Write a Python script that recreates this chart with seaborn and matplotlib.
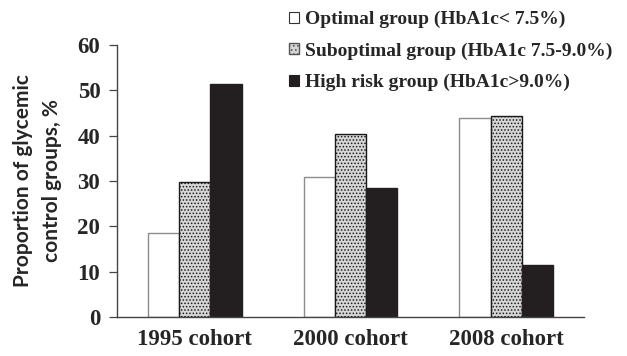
import matplotlib
matplotlib.use("Agg")
import matplotlib.pyplot as plt
import seaborn as sns
import pandas as pd
from matplotlib.patches import Patch

cohorts = ["1995 cohort", "2000 cohort", "2008 cohort"]
groups = ["Optimal group (HbA1c< 7.5%)",
          "Suboptimal group (HbA1c 7.5-9.0%)",
          "High risk group (HbA1c>9.0%)"]
optimal = [18.5, 30.8, 43.8]
suboptimal = [29.8, 40.3, 44.4]
high_risk = [51.4, 28.5, 11.5]
yticks = [0, 10, 20, 30, 40, 50, 60]

rows = []
for g, vals in zip(groups, [optimal, suboptimal, high_risk]):
    for c, v in zip(cohorts, vals):
        rows.append({"cohort": c, "group": g, "value": v})
df = pd.DataFrame(rows)

sns.set_theme(style="white")
plt.rcParams["hatch.linewidth"] = 0.7
serif = ["Liberation Serif", "DejaVu Serif"]

fig = plt.figure(figsize=(6.27, 3.56), dpi=100)
ax = fig.add_axes([0.1866, 0.1096, 0.7448, 0.764])

GRAY_FACE = "#d6d6d6"
DOT = "#8a8a8a"
palette = {groups[0]: "white", groups[1]: GRAY_FACE, groups[2]: "#231f20"}
sns.barplot(data=df, x="cohort", y="value", hue="group", order=cohorts,
            hue_order=groups, palette=palette, width=0.6, ax=ax,
            legend=False, saturation=1)


def style_patch(p, edge, hatch=None):
    p.set_edgecolor(edge)
    p.set_linewidth(1.0)
    if hatch:
        p.set_hatch(hatch)
        if hasattr(p, "set_hatchcolor"):
            p.set_hatchcolor(DOT)


styles = [("#8c8c8c", None), ("#1a1a1a", "....."), ("#231f20", None)]
for container, (ec, hatch) in zip(ax.containers, styles):
    for bar in container:
        style_patch(bar, ec, hatch)

ax.set_xlim(-0.5, 2.5)
ax.set_ylim(0, 60)
ax.set_yticks(yticks)
ax.set_yticklabels([str(t) for t in yticks], fontfamily=serif,
                   fontweight="bold", fontsize=16.5)
ax.set_xticks(range(len(cohorts)))
ax.set_xticklabels(cohorts, fontfamily=serif, fontweight="bold",
                   fontsize=16.5)
ax.tick_params(axis="y", direction="out", length=6, width=0.9,
               color="#444444", pad=6, left=True)
ax.tick_params(axis="x", length=0, pad=9)
ax.set_xlabel("")
ax.set_ylabel("Proportion of glycemic\ncontrol groups, %",
              fontfamily=["Lato", "DejaVu Sans"], fontweight="bold",
              fontsize=15, labelpad=11, linespacing=1.55)
for s in ["top", "right"]:
    ax.spines[s].set_visible(False)
for s in ["left", "bottom"]:
    ax.spines[s].set_color("#444444")
    ax.spines[s].set_linewidth(1.0)

handles = [Patch(facecolor="white", edgecolor="#333333", linewidth=0.8),
           Patch(facecolor=GRAY_FACE, edgecolor="#555555", linewidth=0.8),
           Patch(facecolor="#231f20", edgecolor="#231f20", linewidth=0.8)]
style_patch(handles[1], "#555555", "....")
fig.legend(handles, groups, loc="upper left",
           bbox_to_anchor=(289 / 627, 1 - 11 / 356),
           borderaxespad=0, borderpad=0,
           frameon=False, handlelength=0.5, handleheight=0.5,
           handletextpad=0.3, labelspacing=0.73,
           prop={"family": serif, "weight": "bold", "size": 14})

fig.savefig("out.png", dpi=100)
